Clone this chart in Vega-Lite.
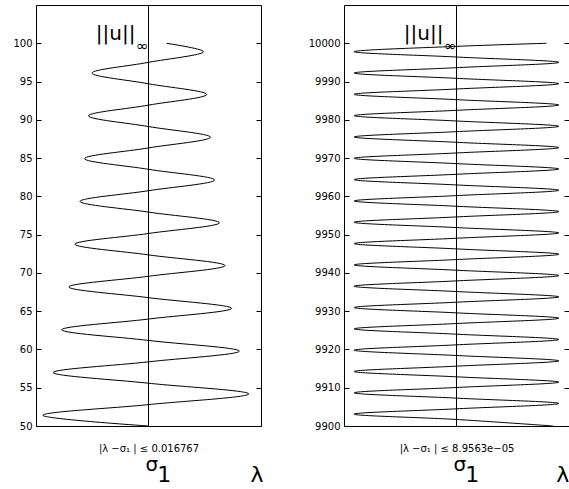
{
 "$schema": "https://vega.github.io/schema/vega-lite/v6.json",
 "padding": {"left": 12, "top": 4, "right": 0, "bottom": 0},
 "background": "white",
 "config": {"view": {"stroke": "black", "strokeWidth": 1}, "font": "DejaVu Sans", "axis": {"labelColor": "black", "tickColor": "black", "titleColor": "black", "labelFont": "DejaVu Sans", "titleFont": "DejaVu Sans"}},
 "spacing": 83,
 "bounds": "flush",
 "datasets": {
  "left": [{"y":50,"x":0},{"y":51.397,"x":-0.9397},{"y":52.795,"x":0},{"y":54.192,"x":0.8913},{"y":55.589,"x":0},{"y":56.986,"x":-0.8476},{"y":58.384,"x":0},{"y":59.781,"x":0.808},{"y":61.178,"x":0},{"y":62.575,"x":-0.7719},{"y":63.973,"x":0},{"y":65.37,"x":0.7389},{"y":66.767,"x":0},{"y":68.164,"x":-0.7086},{"y":69.562,"x":0},{"y":70.959,"x":0.6807},{"y":72.356,"x":0},{"y":73.753,"x":-0.6549},{"y":75.151,"x":0},{"y":76.548,"x":0.631},{"y":77.945,"x":0},{"y":79.342,"x":-0.6088},{"y":80.74,"x":0},{"y":82.137,"x":0.588},{"y":83.534,"x":0},{"y":84.931,"x":-0.5687},{"y":86.329,"x":0},{"y":87.726,"x":0.5506},{"y":89.123,"x":0},{"y":90.52,"x":-0.5336},{"y":91.918,"x":0},{"y":93.315,"x":0.5176},{"y":94.712,"x":0},{"y":96.109,"x":-0.5026},{"y":97.507,"x":0},{"y":98.904,"x":0.4884},{"y":100,"x":0.16}],
  "right": [{"y":9900,"x":0.86},
   {"y":9901.707,"x":0},{"y":9903.1,"x":-0.91},{"y":9904.493,"x":0},{"y":9905.885,"x":0.91},
   {"y":9907.278,"x":0},{"y":9908.671,"x":-0.91},{"y":9910.063,"x":0},{"y":9911.456,"x":0.91},
   {"y":9912.849,"x":0},{"y":9914.241,"x":-0.91},{"y":9915.634,"x":0},{"y":9917.027,"x":0.91},
   {"y":9918.419,"x":0},{"y":9919.812,"x":-0.91},{"y":9921.205,"x":0},{"y":9922.597,"x":0.91},
   {"y":9923.99,"x":0},{"y":9925.383,"x":-0.91},{"y":9926.775,"x":0},{"y":9928.168,"x":0.91},
   {"y":9929.561,"x":0},{"y":9930.953,"x":-0.91},{"y":9932.346,"x":0},{"y":9933.739,"x":0.91},
   {"y":9935.131,"x":0},{"y":9936.524,"x":-0.91},{"y":9937.917,"x":0},{"y":9939.309,"x":0.91},
   {"y":9940.702,"x":0},{"y":9942.095,"x":-0.91},{"y":9943.487,"x":0},{"y":9944.88,"x":0.91},
   {"y":9946.272,"x":0},{"y":9947.665,"x":-0.91},{"y":9949.058,"x":0},{"y":9950.45,"x":0.91},
   {"y":9951.843,"x":0},{"y":9953.236,"x":-0.91},{"y":9954.628,"x":0},{"y":9956.021,"x":0.91},
   {"y":9957.414,"x":0},{"y":9958.806,"x":-0.91},{"y":9960.199,"x":0},{"y":9961.592,"x":0.91},
   {"y":9962.984,"x":0},{"y":9964.377,"x":-0.91},{"y":9965.77,"x":0},{"y":9967.162,"x":0.91},
   {"y":9968.555,"x":0},{"y":9969.948,"x":-0.91},{"y":9971.34,"x":0},{"y":9972.733,"x":0.91},
   {"y":9974.125,"x":0},{"y":9975.518,"x":-0.91},{"y":9976.911,"x":0},{"y":9978.303,"x":0.91},
   {"y":9979.696,"x":0},{"y":9981.089,"x":-0.91},{"y":9982.481,"x":0},{"y":9983.874,"x":0.91},
   {"y":9985.267,"x":0},{"y":9986.659,"x":-0.91},{"y":9988.052,"x":0},{"y":9989.445,"x":0.91},
   {"y":9990.837,"x":0},{"y":9992.23,"x":-0.91},{"y":9993.623,"x":0},{"y":9995.015,"x":0.91},
   {"y":9996.408,"x":0},{"y":9997.801,"x":-0.91},{"y":9999.193,"x":0},
   {"y":10000,"x":0.8}]
 },
 "hconcat": [
  {
   "width": 225, "height": 421,
   "resolve": {"axis": {"y": "independent"}},
   "layer": [
    {"data": {"name": "left"},
     "mark": {"type": "line", "interpolate": "catmull-rom", "color": "black", "strokeWidth": 1},
     "encoding": {
      "x": {"field": "x", "type": "quantitative", "scale": {"domain": [-1, 1], "nice": false, "zero": false},
            "axis": {"values": [0.025, 0.135, 0.96], "labelExpr": "datum.value < 0.1 ? 'σ' : (datum.value < 0.5 ? ['', '1'] : ['', 'λ'])",
                     "labelFontSize": {"condition": {"test": "datum.value < 0.1", "value": 20}, "value": 22},
                     "labelPadding": 44, "labelLineHeight": 11, "labelBaseline": "alphabetic", "labelOverlap": false, "labelFlush": false,
                     "ticks": false, "domain": false, "grid": false,
                     "title": "|λ −σ₁ | ≤  0.016767", "titleFontSize": 10, "titleFontWeight": "normal", "titleY": 25, "titleBaseline": "alphabetic"}},
      "y": {"field": "y", "type": "quantitative", "scale": {"domain": [50, 105], "nice": false, "zero": false},
            "axis": {"orient": "left", "values": [50,55,60,65,70,75,80,85,90,95,100], "format": "d", "offset": -5, "tickSize": 5, "labelPadding": 4, "labelFontSize": 10, "domain": false, "grid": false, "title": null}},
      "order": {"field": "y"}
     }},
    {"data": {"values": [{}]},
     "mark": {"type": "rule", "color": "black", "strokeWidth": 1},
     "encoding": {"x": {"datum": 0, "type": "quantitative"}}},
    {"data": {"values": [{}]},
     "mark": {"type": "text", "text": "||u||", "align": "right", "baseline": "alphabetic", "dx": -13, "dy": -3.5, "fontSize": 20, "font": "DejaVu Sans", "color": "black"},
     "encoding": {
      "x": {"datum": 0, "type": "quantitative"},
      "y": {"datum": 100, "type": "quantitative",
            "axis": {"orient": "right", "values": [50,55,60,65,70,75,80,85,90,95,100], "offset": -5, "tickSize": 5, "labels": false, "domain": false, "grid": false, "title": null}}
     }},
    {"data": {"values": [{}]},
     "mark": {"type": "text", "text": "∞", "align": "right", "baseline": "alphabetic", "dx": 0, "dy": 8, "fontSize": 15, "font": "DejaVu Sans", "color": "black"},
     "encoding": {
      "x": {"datum": 0, "type": "quantitative"},
      "y": {"datum": 100, "type": "quantitative", "axis": null}
     }}
   ]
  },
  {
   "width": 225, "height": 421,
   "resolve": {"axis": {"y": "independent"}},
   "layer": [
    {"data": {"name": "right"},
     "mark": {"type": "line", "interpolate": "catmull-rom", "color": "black", "strokeWidth": 1},
     "encoding": {
      "x": {"field": "x", "type": "quantitative", "scale": {"domain": [-1, 1], "nice": false, "zero": false},
            "axis": {"values": [0.025, 0.135, 0.94], "labelExpr": "datum.value < 0.1 ? 'σ' : (datum.value < 0.5 ? ['', '1'] : ['', 'λ'])",
                     "labelFontSize": {"condition": {"test": "datum.value < 0.1", "value": 20}, "value": 22},
                     "labelPadding": 44, "labelLineHeight": 11, "labelBaseline": "alphabetic", "labelOverlap": false, "labelFlush": false,
                     "ticks": false, "domain": false, "grid": false,
                     "title": "|λ −σ₁ | ≤  8.9563e−05", "titleFontSize": 10, "titleFontWeight": "normal", "titleY": 25, "titleBaseline": "alphabetic"}},
      "y": {"field": "y", "type": "quantitative", "scale": {"domain": [9900, 10010], "nice": false, "zero": false},
            "axis": {"orient": "left", "values": [9900,9910,9920,9930,9940,9950,9960,9970,9980,9990,10000], "format": "d", "offset": -5, "tickSize": 5, "labelPadding": 4, "labelFontSize": 10, "domain": false, "grid": false, "title": null}},
      "order": {"field": "y"}
     }},
    {"data": {"values": [{}]},
     "mark": {"type": "rule", "color": "black", "strokeWidth": 1},
     "encoding": {"x": {"datum": 0, "type": "quantitative"}}},
    {"data": {"values": [{}]},
     "mark": {"type": "text", "text": "||u||", "align": "right", "baseline": "alphabetic", "dx": -13, "dy": -3.5, "fontSize": 20, "font": "DejaVu Sans", "color": "black"},
     "encoding": {
      "x": {"datum": 0, "type": "quantitative"},
      "y": {"datum": 10000, "type": "quantitative",
            "axis": {"orient": "right", "values": [9900,9910,9920,9930,9940,9950,9960,9970,9980,9990,10000], "offset": -5, "tickSize": 5, "labels": false, "domain": false, "grid": false, "title": null}}
     }},
    {"data": {"values": [{}]},
     "mark": {"type": "text", "text": "∞", "align": "right", "baseline": "alphabetic", "dx": 0, "dy": 8, "fontSize": 15, "font": "DejaVu Sans", "color": "black"},
     "encoding": {
      "x": {"datum": 0, "type": "quantitative"},
      "y": {"datum": 10000, "type": "quantitative", "axis": null}
     }}
   ]
  }
 ]
}
